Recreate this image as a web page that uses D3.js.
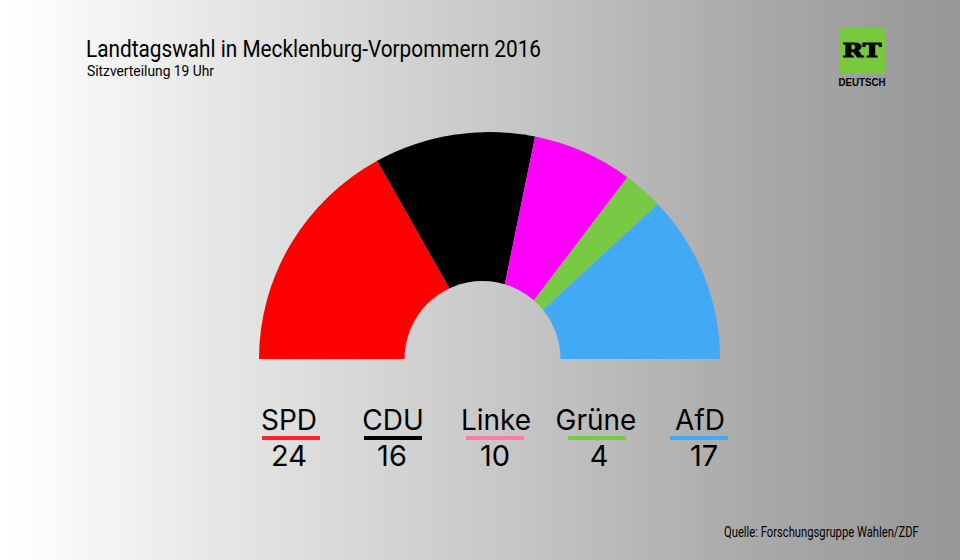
<!DOCTYPE html>
<html>
<head>
<meta charset="utf-8">
<script src="https://cdn.jsdelivr.net/npm/d3@7"></script>
<style>
  html, body { margin: 0; padding: 0; background: #fff; }
  svg { display: block; }
  text { font-family: Roboto, Lato, sans-serif; fill: #000; }
  .legend text { font-family: Inter, Lato, sans-serif; }
</style>
</head>
<body>
<div id="chart"></div>
<script>
// Data
var parties = ['SPD', 'CDU', 'Linke', 'Grüne', 'AfD'];
var seats = [24, 16, 10, 4, 17];
var sliceColors = ['#ff0000', '#000000', '#ff00ff', '#78c944', '#42a9f7'];
var legendColors = ['#ff2228', '#000000', '#ff7bac', '#78c944', '#42a9f7'];

var titleText = 'Landtagswahl in Mecklenburg-Vorpommern 2016';
var subtitleText = 'Sitzverteilung 19 Uhr';
var sourceText = 'Quelle: Forschungsgruppe Wahlen/ZDF';

// Layout
var width = 960, height = 560;
var cx = 489.5, cy = 359, outerR = 230.5, squashY = 227 / 230.5;
var holeX = 482.5, holeR = 78;
var labelShift = [0, 2, 3, 1, 3];   // labels are not quite centred on their bars in the original
var valueShift = [0, 1, 2, 4, 7];

var svg = d3.select('#chart').append('svg')
    .attr('width', width)
    .attr('height', height);

var defs = svg.append('defs');

// Background gradient, also used to fill the hole
var grad = defs.append('linearGradient')
    .attr('id', 'bg')
    .attr('gradientUnits', 'userSpaceOnUse')
    .attr('x1', 0).attr('x2', width).attr('y1', 0).attr('y2', 0);
[[0, '#ffffff'], [0.03, '#fdfdfd'], [0.25, '#e4e4e4'], [0.52, '#c8c8c8'], [0.77, '#ababab'], [1, '#969696']]
    .forEach(function(s) {
        grad.append('stop').attr('offset', s[0]).attr('stop-color', s[1]);
    });

svg.append('rect')
    .attr('width', width)
    .attr('height', height)
    .attr('fill', 'url(#bg)');

// Half pie
var pie = d3.pie()
    .sort(null)
    .startAngle(-Math.PI / 2)
    .endAngle(Math.PI / 2);
var arc = d3.arc().innerRadius(0).outerRadius(outerR);

svg.append('g')
    .attr('transform', 'translate(' + cx + ',' + cy + ') scale(1,' + squashY + ')')
    .selectAll('path')
    .data(pie(seats))
    .join('path')
    .attr('d', arc)
    .attr('fill', function(d, i) { return sliceColors[i]; });

// The hole sits a bit left of the pie centre. Clip a background rect so the gradient lines up
defs.append('clipPath')
    .attr('id', 'hole')
    .append('path')
    .attr('transform', 'translate(' + holeX + ',' + cy + ')')
    .attr('d', d3.arc().innerRadius(0).outerRadius(holeR).startAngle(-Math.PI / 2).endAngle(Math.PI / 2)());

svg.append('rect')
    .attr('width', width)
    .attr('height', height)
    .attr('fill', 'url(#bg)')
    .attr('clip-path', 'url(#hole)');

// Title
svg.append('text')
    .attr('x', 86).attr('y', 57)
    .attr('font-size', 23.5)
    .attr('textLength', 455)
    .attr('lengthAdjust', 'spacingAndGlyphs')
    .text(titleText);
svg.append('text')
    .attr('x', 87).attr('y', 76)
    .attr('font-size', 14.5)
    .attr('textLength', 127)
    .attr('lengthAdjust', 'spacingAndGlyphs')
    .text(subtitleText);

// Legend
var legendX = d3.scalePoint()
    .domain(parties)
    .range([291, 699]);

var legend = svg.append('g')
    .attr('class', 'legend')
    .selectAll('g')
    .data(parties)
    .join('g')
    .attr('transform', function(d) { return 'translate(' + legendX(d) + ',0)'; });

legend.append('text')
    .attr('x', function(d, i) { return labelShift[i] - 2; })
    .attr('y', 430)
    .attr('text-anchor', 'middle')
    .attr('font-size', 28)
    .text(function(d) { return d; });

legend.append('rect')
    .attr('x', -29).attr('y', 436)
    .attr('width', 58).attr('height', 4)
    .attr('fill', function(d, i) { return legendColors[i]; });

legend.append('text')
    .attr('x', function(d, i) { return valueShift[i] - 2; })
    .attr('y', 466)
    .attr('text-anchor', 'middle')
    .attr('font-size', 29)
    .text(function(d, i) { return seats[i]; });

// Source, squeezed with a transform so its box stays the drawn size
var source = svg.append('text')
    .attr('font-size', 14.5)
    .text(sourceText);
var sourceScale = 195 / source.node().getComputedTextLength();
source.attr('transform', 'translate(724,537) scale(' + sourceScale + ',1)');

// Logo
var logo = svg.append('g').attr('transform', 'translate(839,28)');
logo.append('rect')
    .attr('width', 46).attr('height', 46)
    .attr('fill', '#78c93c');
logo.append('text')
    .attr('x', 23).attr('y', 28.5)
    .attr('text-anchor', 'middle')
    .style('font-family', '"DejaVu Serif", serif')
    .style('stroke', '#000')
    .style('stroke-width', 1)
    .attr('font-weight', 'bold')
    .attr('font-size', 19)
    .attr('textLength', 39)
    .attr('lengthAdjust', 'spacingAndGlyphs')
    .text('RT');
logo.append('text')
    .attr('x', 23).attr('y', 58)
    .attr('text-anchor', 'middle')
    .style('font-family', '"Liberation Sans", sans-serif')
    .attr('font-weight', 'bold')
    .attr('font-size', 11)
    .attr('textLength', 47)
    .attr('lengthAdjust', 'spacingAndGlyphs')
    .text('DEUTSCH');
</script>
</body>
</html>
